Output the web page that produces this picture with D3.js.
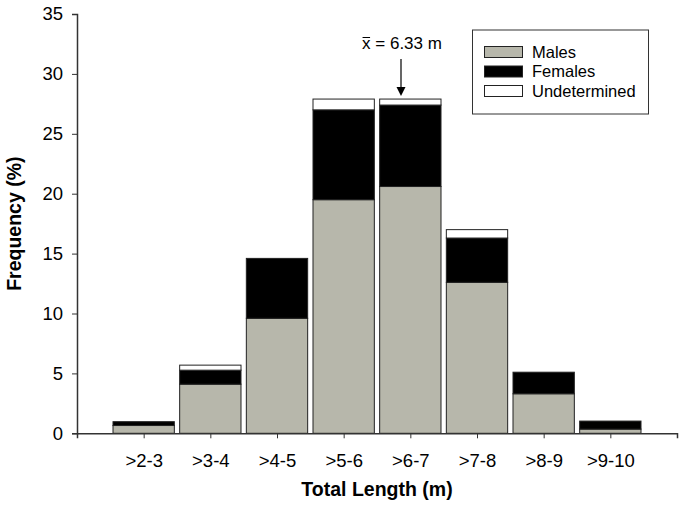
<!DOCTYPE html>
<html>
<head>
<meta charset="utf-8">
<script src="https://cdn.jsdelivr.net/npm/d3@7"></script>
<style>
  body { margin: 0; background: #fff; }
  text { font-family: "Liberation Sans", Arial, sans-serif; fill: #000; }
</style>
</head>
<body>
<script>
// data (percent of animals per length class)
const classes = [2, 3, 4, 5, 6, 7, 8, 9];
const classLabels = [">2-3", ">3-4", ">4-5", ">5-6", ">6-7", ">7-8", ">8-9", ">9-10"];
const males = [0.65, 4.1, 9.6, 19.5, 20.6, 12.6, 3.3, 0.35];
const females = [0.32, 1.17, 5.0, 7.5, 6.8, 3.7, 1.8, 0.67];
const undetermined = [0, 0.42, 0, 0.9, 0.5, 0.7, 0, 0];
const seriesNames = ["Males", "Females", "Undetermined"];
const seriesColors = ["#b7b7ab", "#000000", "#ffffff"];
const yTicks = [0, 5, 10, 15, 20, 25, 30, 35];
const meanValue = 5.86; // arrow position on the class axis
const meanLabel = " = 6.33 m";

const width = 684, height = 515;
const margin = {top: 14, right: 7, bottom: 82, left: 77};

const svg = d3.select("body").append("svg")
  .attr("width", width)
  .attr("height", height);

const x = d3.scaleLinear()
  .domain([1, 10])
  .range([margin.left, width - margin.right]);

const y = d3.scaleLinear()
  .domain([0, 35])
  .range([height - margin.bottom + 0.3, margin.top]);

const rows = classes.map((c, i) => ({
  cls: c, Males: males[i], Females: females[i], Undetermined: undetermined[i]
}));
const stacked = d3.stack().keys(seriesNames)(rows);

const barW = (x(2) - x(1)) * 0.92;

svg.append("g").selectAll("g")
  .data(stacked)
  .join("g")
  .attr("fill", (d, i) => seriesColors[i])
  .selectAll("rect")
  .data(d => d.filter(p => p[1] - p[0] > 0))
  .join("rect")
  .attr("x", d => x(d.data.cls) - barW / 2)
  .attr("width", barW)
  .attr("y", d => y(d[1]))
  .attr("height", d => y(d[0]) - y(d[1]))
  .attr("stroke", "#222")
  .attr("stroke-width", 1);

// axes
const xAxis = d3.axisBottom(x)
  .tickValues(classes)
  .tickFormat((d, i) => classLabels[i])
  .tickSizeOuter(0)
  .tickSize(5)
  .tickPadding(16);

const yAxis = d3.axisLeft(y)
  .tickValues(yTicks)
  .tickSizeOuter(0)
  .tickSize(5)
  .tickPadding(9);

const gx = svg.append("g")
  .attr("transform", "translate(0," + y(0) + ")")
  .call(xAxis);

const gy = svg.append("g")
  .attr("transform", "translate(" + margin.left + ",0)")
  .call(yAxis);

[gx, gy].forEach(g => {
  g.select(".domain").attr("stroke", "#333").attr("stroke-width", 1.5);
  g.selectAll(".tick line").attr("stroke", "#333").attr("stroke-width", 1);
  g.selectAll(".tick text")
    .attr("font-size", 18.5)
    .attr("font-family", "Liberation Sans, Arial, sans-serif")
    .attr("fill", "#000");
});

// axis titles
svg.append("text")
  .attr("x", 377)
  .attr("y", 496)
  .attr("text-anchor", "middle")
  .attr("font-size", 19.5)
  .attr("font-weight", "bold")
  .text("Total Length (m)");

svg.append("text")
  .attr("transform", "translate(21," + (y(17.5)) + ") rotate(-90)")
  .attr("text-anchor", "middle")
  .attr("font-size", 19.5)
  .attr("font-weight", "bold")
  .text("Frequency (%)");

// mean arrow
const mx = x(meanValue);
svg.append("line")
  .attr("x1", mx).attr("x2", mx)
  .attr("y1", 59).attr("y2", 90)
  .attr("stroke", "#000").attr("stroke-width", 1.2);
svg.append("path")
  .attr("d", `M${mx - 4.5},87 L${mx + 4.5},87 L${mx},96 Z`)
  .attr("fill", "#000");

const meanText = svg.append("text")
  .attr("x", mx + 1)
  .attr("y", 49)
  .attr("text-anchor", "middle")
  .attr("font-size", 17);
meanText.append("tspan").attr("class", "xbar").text("x");
meanText.append("tspan").text(meanLabel);

const tb = meanText.node().getBBox();
const xb = meanText.select(".xbar").node().getComputedTextLength();
svg.append("line")
  .attr("x1", tb.x + 0.5).attr("x2", tb.x + xb - 0.5)
  .attr("y1", 37.5).attr("y2", 37.5)
  .attr("stroke", "#000").attr("stroke-width", 1);

// legend
const legend = svg.append("g");
legend.append("rect")
  .attr("x", 472.5).attr("y", 30)
  .attr("width", 176).attr("height", 84)
  .attr("fill", "#fff")
  .attr("stroke", "#333")
  .attr("stroke-width", 1);

const items = legend.selectAll("g.item")
  .data(seriesNames)
  .join("g")
  .attr("transform", (d, i) => "translate(0," + (46.5 + i * 19.5) + ")");

items.append("rect")
  .attr("x", 484.5).attr("y", 0)
  .attr("width", 38).attr("height", 11)
  .attr("fill", (d, i) => seriesColors[i])
  .attr("stroke", "#222");

items.append("text")
  .attr("x", 532)
  .attr("y", 11)
  .attr("font-size", 16.5)
  .text(d => d);
</script>
</body>
</html>
